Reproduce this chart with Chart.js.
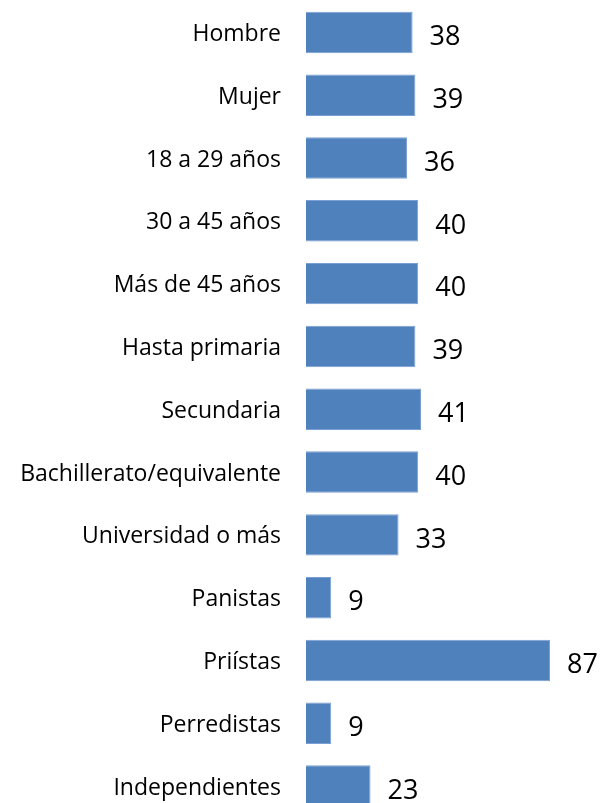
<!DOCTYPE html>
<html>
<head>
<meta charset="utf-8">
<script src="https://cdn.jsdelivr.net/npm/chart.js@4.4.1/dist/chart.umd.min.js"></script>
<style>
  html, body { margin: 0; padding: 0; background: #fff; overflow: hidden; }
  canvas { display: block; }
</style>
</head>
<body>
<canvas id="chart" width="601" height="820"></canvas>
<script>
const categories = [
  'Hombre', 'Mujer', '18 a 29 años', '30 a 45 años', 'Más de 45 años',
  'Hasta primaria', 'Secundaria', 'Bachillerato/equivalente', 'Universidad o más',
  'Panistas', 'Priístas', 'Perredistas', 'Independientes'
];
const values = [38, 39, 36, 40, 40, 39, 41, 40, 33, 9, 87, 9, 23];

// category names + values, drawn so the baseline sits like the original
const textLabels = {
  id: 'textLabels',
  afterDatasetsDraw(chart) {
    const ctx = chart.ctx;
    const yScale = chart.scales.y;
    const meta = chart.getDatasetMeta(0);
    ctx.save();
    ctx.fillStyle = '#000';
    ctx.textBaseline = 'middle';

    ctx.font = '23px "Open Sans"';
    ctx.textAlign = 'right';
    categories.forEach((name, i) => {
      ctx.fillText(name, yScale.right - 25, yScale.getPixelForValue(i) + 2);
    });

    ctx.font = '27px "Open Sans"';
    ctx.textAlign = 'left';
    meta.data.forEach((bar, i) => {
      ctx.fillText(String(values[i]), bar.x + 17, bar.y + 5);
    });
    ctx.restore();
  }
};

new Chart(document.getElementById('chart'), {
  type: 'bar',
  data: {
    labels: categories,
    datasets: [
      {
        data: values,
        backgroundColor: '#4F81BD',
        borderColor: '#7A9FD2',
        borderWidth: 1,
        barPercentage: 0.66,
        categoryPercentage: 1
      }
    ]
  },
  options: {
    indexAxis: 'y',
    responsive: false,
    animation: false,
    devicePixelRatio: 1,
    layout: { padding: { top: 1, right: 14.5, bottom: 2.5, left: 0 } },
    plugins: {
      legend: { display: false },
      tooltip: { enabled: false }
    },
    scales: {
      x: {
        display: false,
        min: 0,
        max: 100
      },
      y: {
        afterFit(scale) {
          scale.width = 306;
          scale.paddingTop = 0;
          scale.paddingBottom = 0;
        },
        grid: { display: false, drawTicks: false },
        border: { display: false },
        ticks: { display: false }
      }
    }
  },
  plugins: [textLabels]
});
</script>
</body>
</html>
